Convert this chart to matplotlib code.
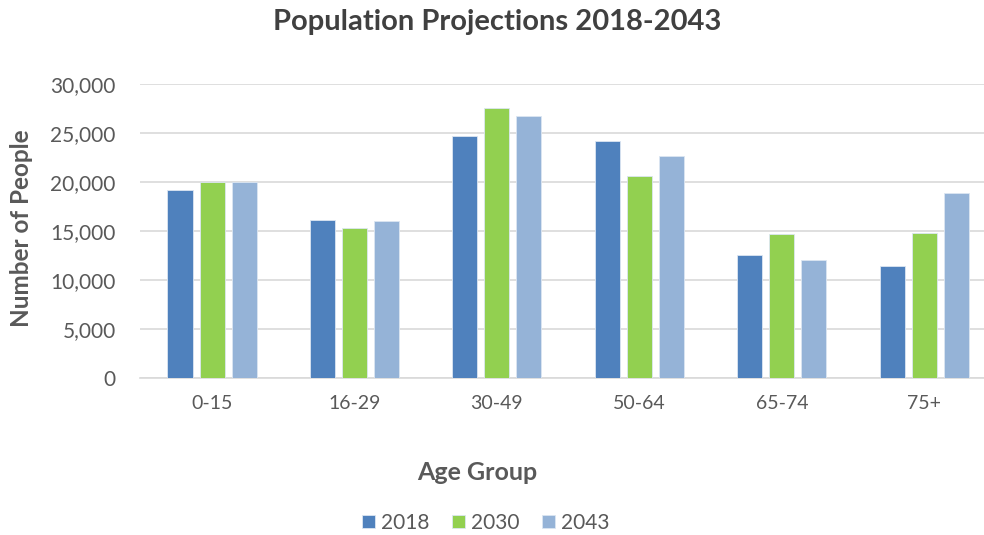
import matplotlib
matplotlib.use("Agg")
import matplotlib.pyplot as plt
import numpy as np
from matplotlib.ticker import FuncFormatter

categories = ["0-15", "16-29", "30-49", "50-64", "65-74", "75+"]
years = ["2018", "2030", "2043"]
v2018 = [19200, 16100, 24650, 24200, 12600, 11400]
v2030 = [19950, 15300, 27550, 20650, 14700, 14800]
v2043 = [20050, 16000, 26700, 22700, 12000, 18900]
colors = ["#4F81BD", "#92D050", "#95B3D7"]

plt.rcParams['font.family'] = ['Lato', 'DejaVu Sans']
text_color = "#595959"

fig = plt.figure(figsize=(9.84, 5.35), dpi=100)
ax = fig.add_axes([140/984, 1-378/535, 844/984, 294/535])

x = np.arange(len(categories))
width = 0.176
offs = [-0.225, 0.0, 0.225]
for vals, c, o, lab in zip([v2018, v2030, v2043], colors, offs, years):
    ax.bar(x + o, vals, width, color=c, label=lab, edgecolor="#DCE6F2", linewidth=0.6, zorder=3)

ax.set_xlim(-0.506, 5.42)
ax.set_ylim(0, 30000)
ax.set_yticks(np.arange(0, 30001, 5000))
ax.yaxis.set_major_formatter(FuncFormatter(lambda v, p: f"{int(v):,}"))
ax.set_xticks(x)
ax.set_xticklabels(categories)
ax.grid(axis='y', color="#D9D9D9", linewidth=1.2, zorder=0)
for s in ["top", "right", "left"]:
    ax.spines[s].set_visible(False)
ax.spines["bottom"].set_color("#D9D9D9")
ax.spines["bottom"].set_linewidth(1.2)
ax.tick_params(axis='both', length=0, labelcolor=text_color)
ax.tick_params(axis='x', pad=12, labelsize=14)
ax.tick_params(axis='y', pad=17.5, labelsize=15)

fig.text(497/984, 1-22/535, "Population Projections 2018-2043", ha='center', va='center',
         fontsize=21, fontweight='bold', color="#404040")
fig.text(22/984, 1-228/535, "Number of People", ha='center', va='center', rotation=90,
         fontsize=17.5, fontweight='bold', color="#595959")
fig.text(477/984, 1-472/535, "Age Group", ha='center', va='center',
         fontsize=18, fontweight='bold', color="#595959")

leg = fig.legend(loc='center', bbox_to_anchor=(486/984, 1-523/535), ncol=3, frameon=False,
                 fontsize=15, handlelength=0.6, handleheight=0.6, handletextpad=0.3,
                 columnspacing=1.1, labelcolor=text_color)

fig.savefig("out.png", dpi=100)
